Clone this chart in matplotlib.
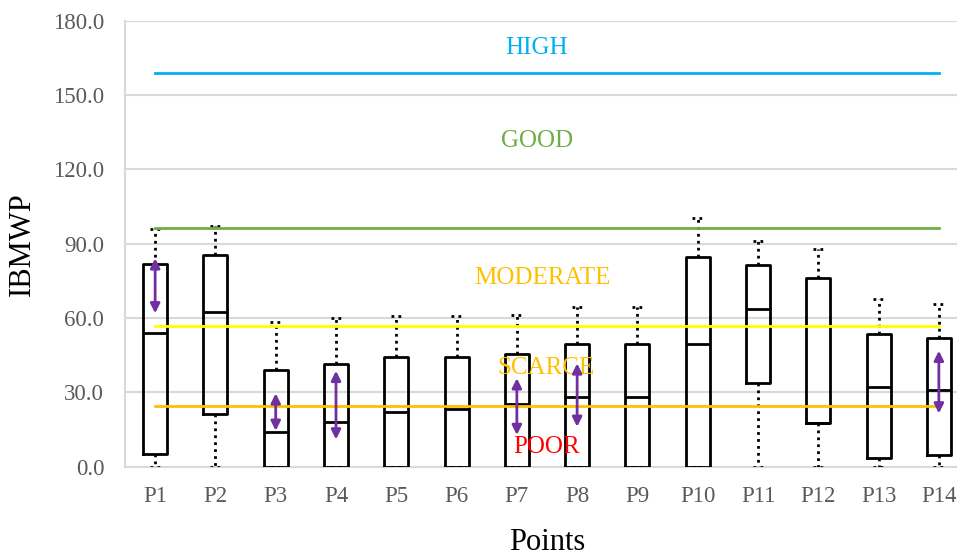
import matplotlib
matplotlib.use("Agg")
import matplotlib.pyplot as plt

categories = ["P1", "P2", "P3", "P4", "P5", "P6", "P7", "P8", "P9", "P10", "P11", "P12", "P13", "P14"]
whisker_low = [0, 0, 0, 0, 0, 0, 0, 0, 0, 0, 0, 0, 0, 0]
q1 = [5.0, 21.4, 0, 0, 0, 0, 0, 0, 0, 0, 33.9, 17.6, 3.4, 4.8]
median = [54.1, 62.6, 13.9, 18.2, 22.2, 23.2, 25.4, 28.0, 28.0, 49.6, 63.8, 17.6, 32.0, 31.1]
q3 = [81.7, 85.3, 39.1, 41.6, 44.1, 44.1, 45.6, 49.6, 49.6, 84.6, 81.3, 76.1, 53.7, 51.8]
whisker_high = [95.8, 97.3, 58.3, 59.9, 60.7, 60.7, 61.1, 64.3, 64.3, 100.2, 91.2, 87.7, 67.5, 65.8]

thresholds = {"HIGH": 159.0, "GOOD": 96.2, "MODERATE": 56.7, "SCARCE": 24.5}
arrow_points = ["P1", "P3", "P4", "P7", "P8", "P14"]
arrow_top = [84.1, 29.6, 38.7, 35.7, 41.7, 46.8]
arrow_bottom = [61.9, 14.5, 11.0, 12.8, 16.1, 21.5]

yticks = [0, 30, 60, 90, 120, 150, 180]

plt.rcParams['font.family'] = ['Liberation Serif', 'DejaVu Serif']

fig = plt.figure(figsize=(9.57, 5.56), dpi=100)
ax = fig.add_axes([125/957, 89.3/556, 844/957, 446/556])

stats = []
for i, c in enumerate(categories):
    stats.append(dict(label=c, whislo=whisker_low[i], q1=q1[i], med=median[i],
                      q3=q3[i], whishi=whisker_high[i], fliers=[]))
pos = list(range(1, len(categories) + 1))
ax.bxp(stats, positions=pos, widths=0.4, showfliers=False, capwidths=0.18,
       boxprops=dict(color='black', linewidth=2),
       medianprops=dict(color='black', linewidth=2),
       whiskerprops=dict(color='black', linewidth=2, linestyle=(0, (1, 1.5))),
       capprops=dict(color='black', linewidth=2, linestyle=(0, (1, 1.5))),
       zorder=3)

# threshold lines
line_colors = {"HIGH": "#00B0F0", "GOOD": "#70AD47", "MODERATE": "#FFFF00", "SCARCE": "#FFC000"}
for k, v in thresholds.items():
    ax.plot([pos[0], pos[-1]], [v, v], color=line_colors[k], linewidth=2, zorder=4)

# labels
ax.text(7.33, 169, "HIGH", color="#00B0F0", fontsize=18, ha='center', va='center')
ax.text(7.33, 131.4, "GOOD", color="#70AD47", fontsize=18, ha='center', va='center')
ax.text(7.42, 76.1, "MODERATE", color="#FFC000", fontsize=18, ha='center', va='center')
ax.text(7.48, 39.8, "SCARCE", color="#FFC000", fontsize=18, ha='center', va='center', zorder=5)
ax.text(7.5, 7.9, "POOR", color="#FF0000", fontsize=18, ha='center', va='center', zorder=5)

# arrows
for p, t, b in zip(arrow_points, arrow_top, arrow_bottom):
    x = categories.index(p) + 1
    ax.annotate("", xy=(x, t), xytext=(x, b),
                arrowprops=dict(arrowstyle='<|-|>', color='#7030A0', lw=2,
                                mutation_scale=14, shrinkA=0, shrinkB=0), zorder=6)

ax.set_xlim(0.5, 14.5)
ax.set_ylim(0, 180)
ax.set_yticks(yticks)
ax.set_yticklabels([f"{v:.1f}" for v in yticks])
ax.set_xticks(pos)
ax.set_xticklabels(categories)
ax.tick_params(axis='both', length=0, labelsize=16.5, colors='#595959')
ax.tick_params(axis='y', pad=15)
ax.tick_params(axis='x', pad=14)
ax.grid(axis='y', color='#D9D9D9', linewidth=1.5, zorder=0)
ax.set_axisbelow(True)
for s in ['top', 'right']:
    ax.spines[s].set_visible(False)
ax.spines['left'].set_color('#D9D9D9')
ax.spines['left'].set_linewidth(1.5)
ax.spines['bottom'].set_color('#D9D9D9')
ax.spines['bottom'].set_linewidth(1.5)

ax.set_ylabel("IBMWP", fontsize=22, color='black')
ax.yaxis.set_label_coords(-0.105, 0.5)
ax.set_xlabel("Points", fontsize=22, color='black', labelpad=15)

fig.savefig("out.png", dpi=100)
